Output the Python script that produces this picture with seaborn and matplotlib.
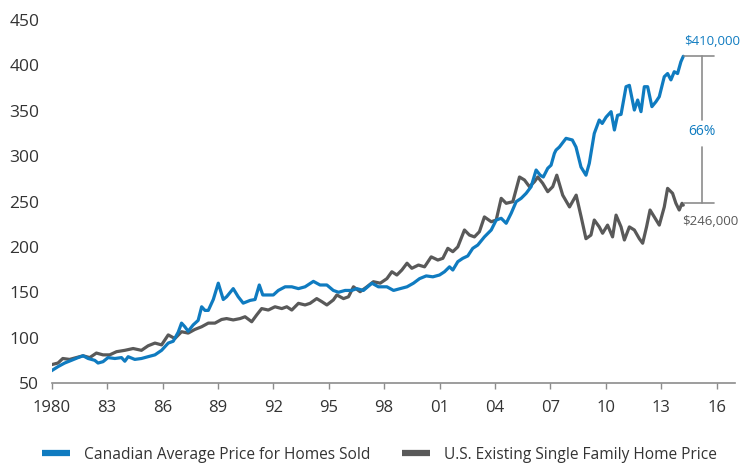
import numpy as np
import pandas as pd
import matplotlib
matplotlib.use("Agg")
import matplotlib.pyplot as plt
from matplotlib.lines import Line2D
import seaborn as sns

# ---------------- data ----------------
can_years = [1979.95, 1980.34, 1980.7, 1981.07, 1981.43, 1981.7, 1981.97, 1982.33, 1982.51, 1982.78,
             1983.05, 1983.42, 1983.78, 1983.96, 1984.14, 1984.5, 1984.86, 1985.22, 1985.59, 1985.95,
             1986.31, 1986.58, 1986.85, 1987.03, 1987.21, 1987.39, 1987.66, 1987.93, 1988.12, 1988.3,
             1988.48, 1988.75, 1989.02, 1989.29, 1989.47, 1989.83, 1990.1, 1990.37, 1990.74, 1991.01,
             1991.24, 1991.43, 1991.73, 1992.0, 1992.27, 1992.64, 1993.0, 1993.36, 1993.72, 1994.17,
             1994.53, 1994.9, 1995.25, 1995.53, 1995.89, 1996.25, 1996.52, 1996.88, 1997.34, 1997.69,
             1998.15, 1998.51, 1998.87, 1999.24, 1999.59, 1999.92, 2000.28, 2000.64, 2001.0, 2001.27,
             2001.54, 2001.72, 2001.99, 2002.26, 2002.53, 2002.8, 2003.07, 2003.43, 2003.8, 2004.07,
             2004.34, 2004.61, 2004.88, 2005.15, 2005.42, 2005.69, 2005.96, 2006.23, 2006.45, 2006.62,
             2006.86, 2007.04, 2007.22, 2007.31, 2007.49, 2007.85, 2008.19, 2008.39, 2008.66, 2008.93,
             2009.11, 2009.38, 2009.65, 2009.81, 2010.02, 2010.29, 2010.47, 2010.64, 2010.83, 2011.1,
             2011.28, 2011.55, 2011.73, 2011.91, 2012.09, 2012.27, 2012.5, 2012.72, 2012.9, 2013.17,
             2013.35, 2013.53, 2013.71, 2013.89, 2014.07, 2014.2]
can_values = [63, 68, 72, 75, 78, 80, 77, 75, 72, 73.5,
              78, 77, 78, 74, 79, 76, 77, 79, 81, 86,
              94, 96, 106, 116, 112, 107, 114, 119, 134, 130,
              130, 142, 160, 142, 145, 154, 145, 138, 141, 142,
              158, 147, 147, 147, 152, 156, 156, 154, 156, 162,
              158, 158, 152, 150, 152, 152, 154, 152, 160, 156,
              156, 152, 154, 156, 160, 165, 168, 167, 169, 172.6,
              178, 174.5, 183.7, 187.4, 190, 198.4, 202, 211, 218.6, 229.6,
              231.5, 226, 237, 249.8, 253.5, 259, 266.3, 284.7, 279, 277,
              286.6, 290, 303, 306.7, 310, 319.6, 317.8, 310, 288, 279,
              292, 325, 339.8, 336, 343, 349, 328.8, 345, 346, 376.5,
              378, 350.8, 361.8, 349, 376.5, 376.5, 354.5, 360, 365.5, 387.5,
              391, 384, 393, 391, 404, 410]

us_years = [1979.95, 1980.34, 1980.6, 1980.97, 1981.33, 1981.7, 1982.06, 1982.42, 1982.78, 1983.14,
            1983.51, 1983.96, 1984.41, 1984.86, 1985.22, 1985.59, 1985.95, 1986.31, 1986.67, 1987.03,
            1987.39, 1987.75, 1988.12, 1988.48, 1988.84, 1989.2, 1989.47, 1989.83, 1990.2, 1990.47,
            1990.83, 1991.1, 1991.37, 1991.73, 1992.09, 1992.46, 1992.73, 1993.0, 1993.36, 1993.72,
            1993.99, 1994.35, 1994.63, 1994.9, 1995.25, 1995.44, 1995.8, 1996.07, 1996.34, 1996.7,
            1997.07, 1997.42, 1997.79, 1998.15, 1998.42, 1998.69, 1998.96, 1999.24, 1999.5, 1999.86,
            2000.19, 2000.55, 2000.91, 2001.18, 2001.45, 2001.72, 2001.99, 2002.35, 2002.62, 2002.89,
            2003.16, 2003.43, 2003.8, 2004.07, 2004.34, 2004.61, 2004.97, 2005.33, 2005.6, 2005.87,
            2006.14, 2006.32, 2006.59, 2006.86, 2007.13, 2007.35, 2007.67, 2008.04, 2008.4, 2008.67,
            2008.93, 2009.2, 2009.38, 2009.65, 2009.83, 2010.1, 2010.37, 2010.56, 2010.83, 2011.01,
            2011.28, 2011.55, 2011.82, 2012.0, 2012.21, 2012.4, 2012.63, 2012.9, 2013.17, 2013.35,
            2013.62, 2013.8, 2013.98, 2014.13, 2014.2]
us_values = [70, 72, 77, 76, 78, 80, 78, 83, 81, 81,
             84.5, 86, 88, 86, 91, 94, 92, 103, 99, 106.5,
             105, 109, 112, 116, 116, 120, 121, 119.5, 121, 123,
             117.5, 125, 132, 130.4, 134, 132, 134, 130.4, 137.8, 136,
             137.8, 143, 139.6, 136, 141.5, 147, 143, 145, 156, 150.6,
             156, 161.6, 160, 165, 172.6, 169, 174.5, 182, 176.4, 180,
             178, 189, 185.5, 187.4, 198.4, 194.7, 200, 218.6, 213, 211,
             216.7, 233, 227.7, 229.6, 253.5, 248, 249.8, 277, 273.7, 266.3,
             271.8, 277, 270, 260.8, 266.3, 279, 257, 244, 257, 233,
             209, 213, 229.6, 222, 215, 224, 211, 235, 222, 207.6,
             222, 218.6, 209, 204, 222, 240.6, 233, 224, 244, 264.5,
             259, 248, 240.6, 248, 246]

series_names = ["Canadian Average Price for Homes Sold",
                "U.S. Existing Single Family Home Price"]
x_tick_years = [1980, 1983, 1986, 1989, 1992, 1995, 1998, 2001, 2004, 2007, 2010, 2013, 2016]
x_tick_labels = ["1980", "83", "86", "89", "92", "95", "98", "01", "04", "07", "10", "13", "16"]
y_ticks = [50, 100, 150, 200, 250, 300, 350, 400, 450]

can_end_label = "$410,000"
us_end_label = "$246,000"
gap_label = "66%"
can_end_value = 410
us_end_value = 248

# ---------------- styling ----------------
BLUE = "#0f7bc0"
GRAY = "#595959"
TEXT = "#333333"
AXIS = "#8c8c8c"

sns.set_theme(style="white")
plt.rcParams["font.family"] = ["Open Sans", "DejaVu Sans"]

df = pd.concat([
    pd.DataFrame({"year": can_years, "value": can_values, "series": series_names[0]}),
    pd.DataFrame({"year": us_years, "value": us_values, "series": series_names[1]}),
], ignore_index=True)

fig = plt.figure(figsize=(7.45, 4.66), dpi=100)
ax = fig.add_axes([51.7 / 745, 1 - 383 / 466, (735 - 51.7) / 745, (383 - 20) / 466])

sns.lineplot(data=df, x="year", y="value", hue="series",
             palette={series_names[0]: BLUE, series_names[1]: GRAY},
             hue_order=[series_names[1], series_names[0]],
             estimator=None, sort=False, linewidth=2.3, legend=False, ax=ax)

ax.set_xlim(1980, 2017)
ax.set_ylim(50, 450)
ax.set_xlabel("")
ax.set_ylabel("")
ax.set_xticks(x_tick_years)
ax.set_xticklabels(x_tick_labels, fontsize=12, color=TEXT)
ax.set_yticks(y_ticks)
ax.set_yticklabels([str(v) for v in y_ticks], fontsize=12.5, color=TEXT)
ax.tick_params(axis="x", direction="out", length=4, width=1, color=AXIS, pad=8, bottom=True)
ax.tick_params(axis="y", length=0, pad=9)
for s in ["top", "right", "left"]:
    ax.spines[s].set_visible(False)
ax.spines["bottom"].set_color(AXIS)
ax.spines["bottom"].set_linewidth(1.2)
ax.grid(False)

# bracket annotation at the right
bx0, bx1, bxm = 2014.25, 2015.87, 2015.2
ax.plot([bx0, bx1], [can_end_value, can_end_value], color=AXIS, lw=1.2, clip_on=False)
ax.plot([bx0, bx1], [us_end_value, us_end_value], color=AXIS, lw=1.2, clip_on=False)
ax.plot([bxm, bxm], [can_end_value, 340], color=AXIS, lw=1.2, clip_on=False)
ax.plot([bxm, bxm], [310, us_end_value], color=AXIS, lw=1.2, clip_on=False)
ax.text(2014.25, 426, can_end_label, color=BLUE, fontsize=9.5, ha="left", va="center", clip_on=False)
ax.text(bxm, 327, gap_label, color=BLUE, fontsize=10, ha="center", va="center", clip_on=False)
ax.text(2014.15, 227.7, us_end_label, color=GRAY, fontsize=9.5, ha="left", va="center", clip_on=False)

handles = [Line2D([0], [0], color=BLUE, lw=4.5, solid_capstyle="butt"),
           Line2D([0], [0], color=GRAY, lw=4.5, solid_capstyle="butt")]
leg = fig.legend(handles, series_names, loc="center", bbox_to_anchor=(0.509, 0.024),
                 ncol=2, frameon=False, handlelength=1.8, handletextpad=0.9,
                 columnspacing=2.0, prop={"size": 11.2})
for t in leg.get_texts():
    t.set_color(TEXT)

fig.savefig("out.png", dpi=100)
